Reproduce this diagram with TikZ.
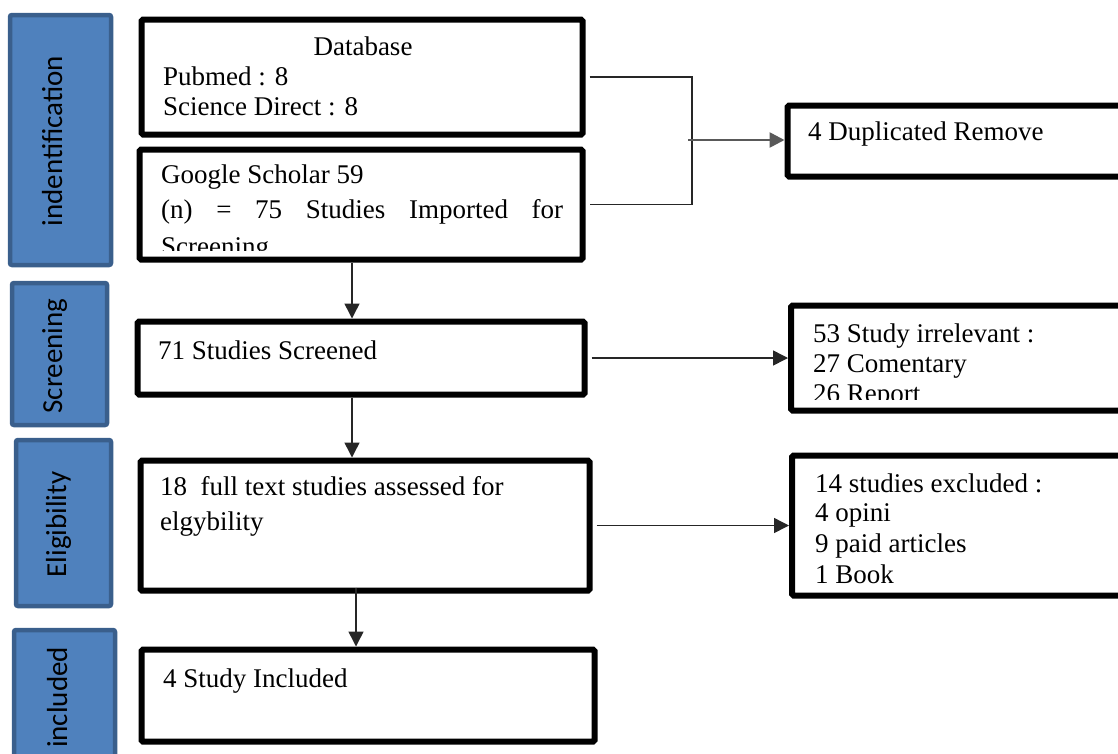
\documentclass[tikz,border=0pt]{standalone}
\usepackage{fontspec}
\setmainfont{Liberation Serif}
\newfontfamily\stagefont{Carlito}
\usetikzlibrary{arrows.meta,calc}
\definecolor{stagefill}{HTML}{4F81BD}
\definecolor{stageborder}{HTML}{3A5F8C}
\begin{document}
\begin{tikzpicture}[x=1pt,y=-1pt,
  stage/.style={draw=stageborder, line width=4.5pt, fill=stagefill, rounded corners=2pt, inner sep=0pt},
  stagelabel/.style={rotate=90, anchor=base, font=\stagefont\fontsize{29}{34}\selectfont, inner sep=0pt},
  flowbox/.style={draw=black, line width=6pt, rounded corners=1.5pt, inner sep=0pt, fill=white},
  txt/.style={anchor=base west, inner sep=0pt, font=\fontsize{27}{31}\selectfont},
  conn/.style={line width=1.5pt, draw=black!85},
  arr/.style={conn, -{Triangle[length=15pt,width=15pt]}}
]
\useasboundingbox (0,0) rectangle (1118,753);
\clip (0,0) rectangle (1118,753);

% stage boxes
\node[stage, minimum width=101pt, minimum height=250pt] (sIdent) at (60.5,140) {};
\node[stage, minimum width=95pt, minimum height=142pt] (sScreen) at (59.5,354) {};
\node[stage, minimum width=95pt, minimum height=166pt] (sElig) at (63.5,523) {};
\node[stage, minimum width=101pt, minimum height=150pt] (sIncl) at (64.5,705) {};
\node[stagelabel] (lIdent) at (62,141) {indentification};
\node[stagelabel] (lScreen) at (62,356) {Screening};
\node[stagelabel] (lElig) at (66,524.5) {Eligibility};
\node[stagelabel] (lIncl) at (67,697.5) {included};

% flow boxes
\node[flowbox, minimum width=441pt, minimum height=115pt] (DB) at (362,77) {};
\node[flowbox, minimum width=443pt, minimum height=110pt] (GS) at (361,204.5) {};
\node[flowbox, minimum width=447pt, minimum height=73pt] (Scr) at (361,358) {};
\node[flowbox, minimum width=449pt, minimum height=130pt] (Elig) at (365,525.5) {};
\node[flowbox, minimum width=453pt, minimum height=92pt] (Incl) at (368,695.5) {};
\node[flowbox, minimum width=350pt, minimum height=71pt] (Dup) at (962.5,141) {};
\node[flowbox, minimum width=346pt, minimum height=105pt] (Irr) at (964,358) {};
\node[flowbox, minimum width=343pt, minimum height=140pt] (Excl) at (963.5,525.5) {};

% texts
\node[txt, anchor=base] (tDB) at (363,55) {Database};
\node[txt] (tPub) at (163,85) {Pubmed : 8};
\node[txt] (tSD) at (163,115) {Science Direct : 8};
\node[txt] (tGS) at (161,183) {Google Scholar 59};
\node[txt] (tN) at (161,218) {\makebox[402pt][s]{(n) = 75 Studies Imported for}};
\begin{scope}
  \clip (140,150) rectangle (583,250);
  \node[txt] (tScrn) at (161,255) {Screening};
\end{scope}
\node[txt] (tDup) at (808,140) {4 Duplicated Remove};
\node[txt] (tScr) at (158,359) {71 Studies Screened};
\node[txt] (tIrr1) at (813,342) {53 Study irrelevant :};
\node[txt] (tIrr2) at (813,372) {27 Comentary};
\begin{scope}
  \clip (792,380) rectangle (1118,399);
  \node[txt] (tIrr3) at (813,402) {26 Report};
\end{scope}
\node[txt] (tEl1) at (160,495) {18\ \ full text studies assessed for};
\node[txt] (tEl2) at (160,530) {elgybility};
\node[txt] (tEx1) at (815,492) {14 studies excluded :};
\node[txt] (tEx2) at (815,521) {4 opini};
\node[txt] (tEx3) at (815,552) {9 paid articles};
\node[txt] (tEx4) at (815,583) {1 Book};
\node[txt] (tIn) at (163,687) {4 Study Included};

% connectors
\coordinate (J) at (688,140);
\draw[conn] ([xshift=4pt]DB.east) -- ([xshift=4pt]DB.east -| J) -- ([xshift=4pt]GS.east -| J) -- ([xshift=4pt]GS.east);
\draw[arr, line width=2.6pt, draw=black!65] (J) -- (J -| Dup.west);
\draw[arr] ([xshift=-9pt]GS.south) -- ([xshift=-9pt]GS.south |- Scr.north);
\draw[arr] ([xshift=4pt]Scr.east) -- (Scr.east -| Irr.west);
\draw[arr] ([xshift=-9pt]Scr.south) -- ([xshift=-9pt]Scr.south |- Elig.north);
\draw[arr] ([xshift=4pt]Elig.east) -- (Elig.east -| Excl.west);
\draw[arr] ([xshift=-9pt,yshift=6pt]Elig.south) -- ([xshift=-9pt]Elig.south |- Incl.north);
\end{tikzpicture}
\end{document}
